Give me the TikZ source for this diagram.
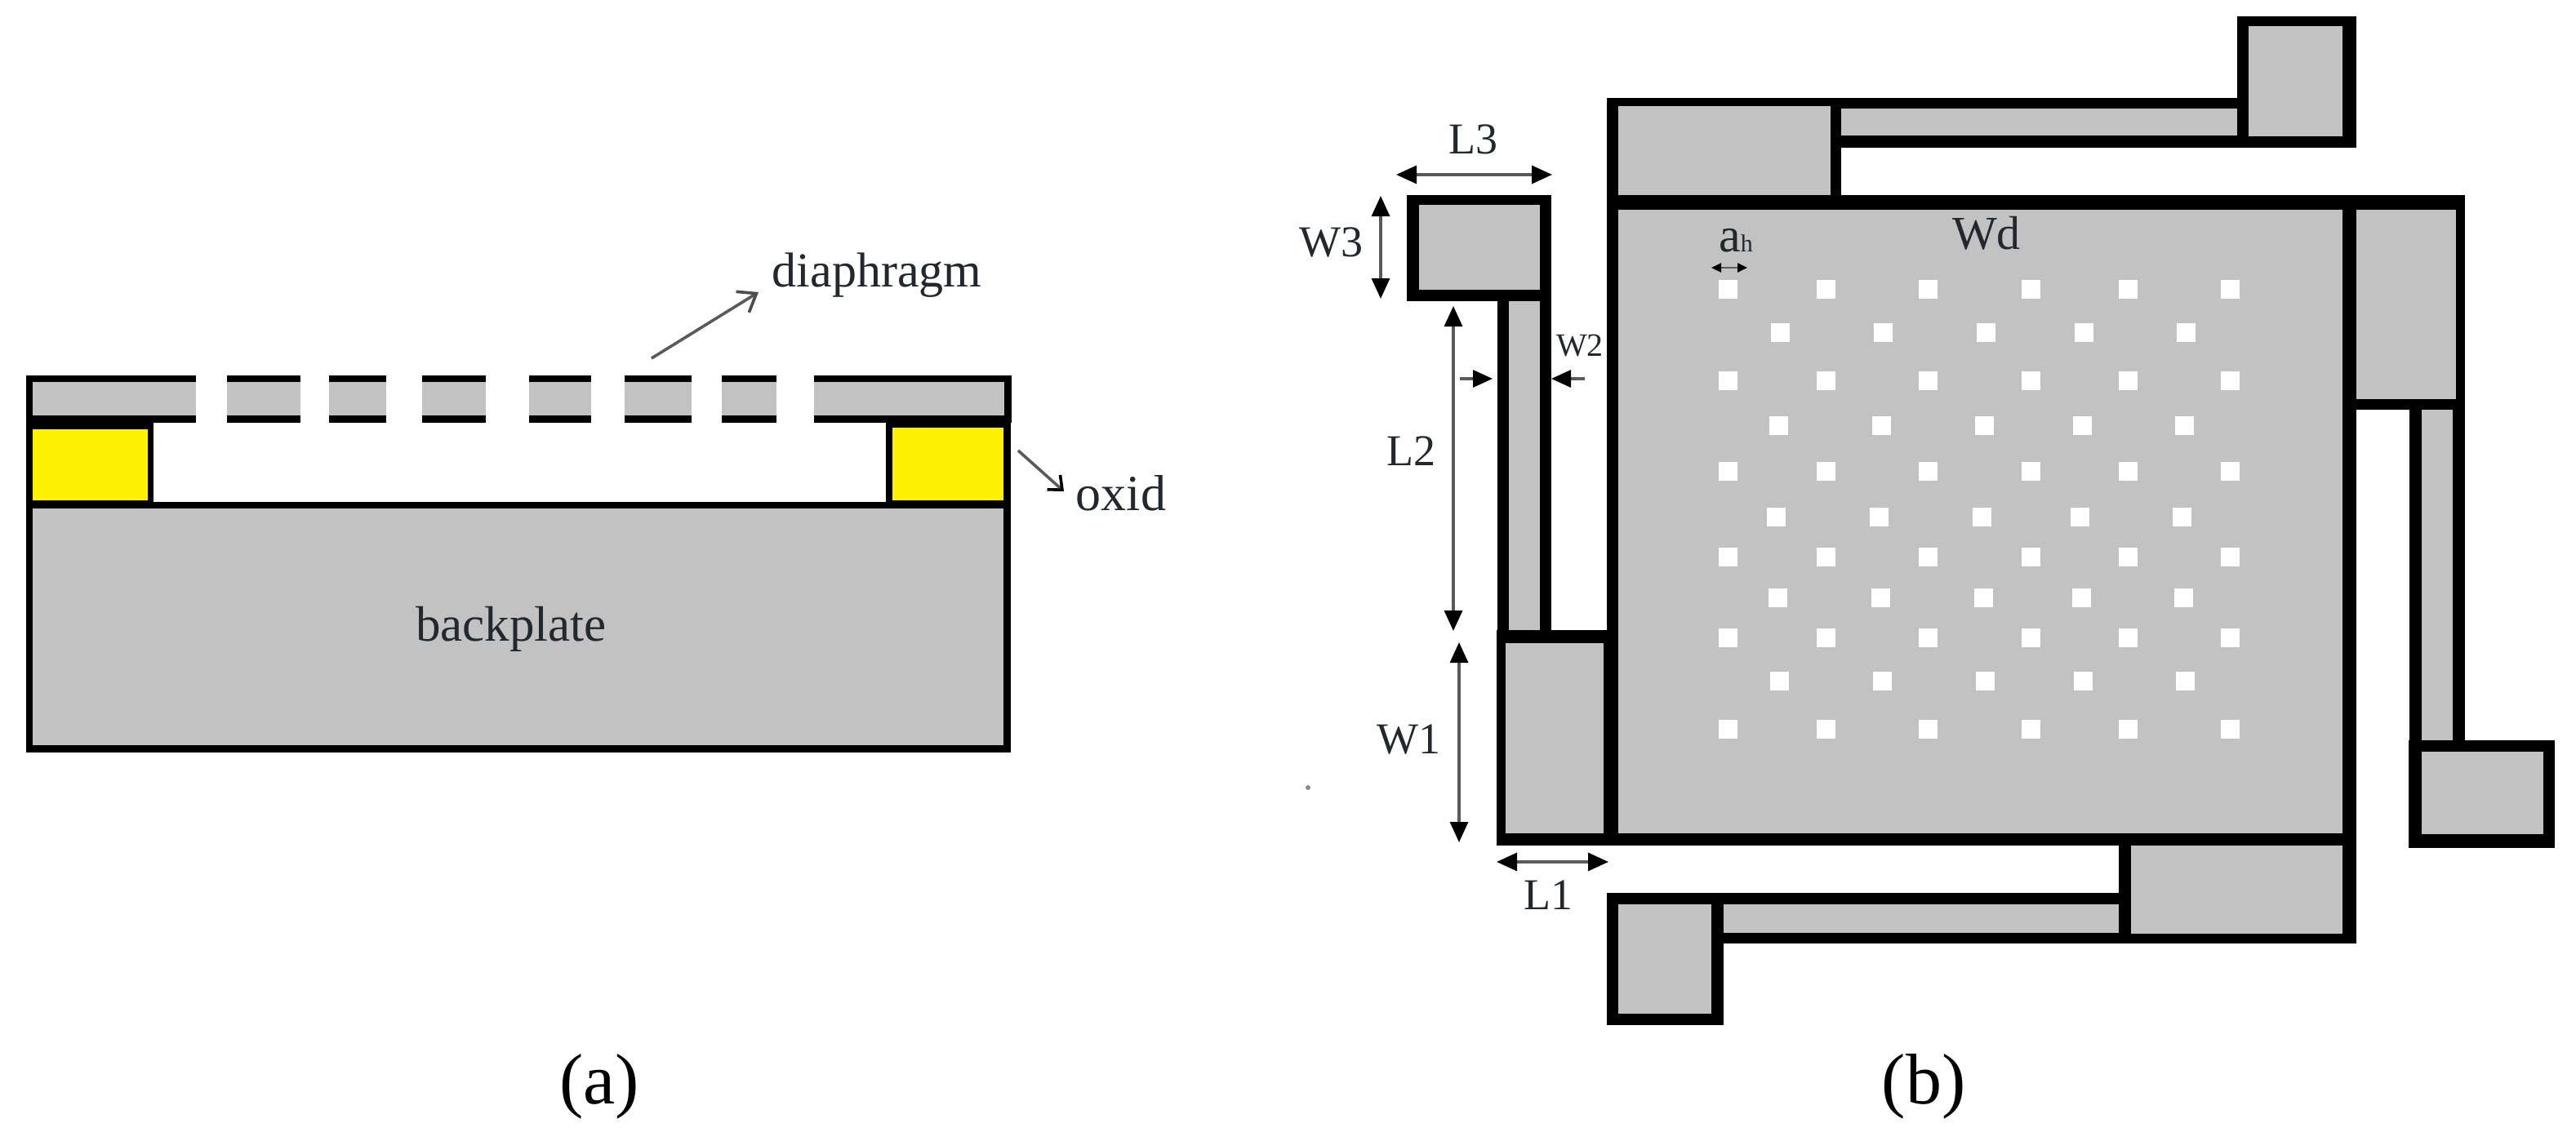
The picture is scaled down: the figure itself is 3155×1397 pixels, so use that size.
\documentclass[tikz,border=0pt]{standalone}
\usepackage{fontspec}
\usetikzlibrary{arrows.meta}
\newfontfamily\tnr{Liberation Serif}
\definecolor{plate}{HTML}{C2C2C2}
\definecolor{oxide}{HTML}{FFF200}
\definecolor{leader}{HTML}{5A5A5A}
\definecolor{labelink}{HTML}{22282E}
\newcommand{\bx}[5]{\fill[#1] (#2,#3) rectangle (#4,#5);}
\newcommand{\fsz}[1]{\fontsize{#1}{#1}\selectfont}
\tikzset{
  x=1pt,y=-1pt,
  dimline/.style={draw=leader,line width=3.2pt,{Triangle[length=25pt,width=22pt,black]}-{Triangle[length=25pt,width=22pt,black]}},
  dimone/.style={draw=leader,line width=3.2pt,-{Triangle[length=24pt,width=21pt,black]}},
  dimsmall/.style={draw=leader,line width=2.4pt,{Triangle[length=12pt,width=11pt,black]}-{Triangle[length=12pt,width=11pt,black]}},
  callout/.style={draw=leader,line width=3.6pt,-{Straight Barb[length=20pt,width=30pt,black!70]}},
  calloutsmall/.style={draw=leader,line width=3.6pt,-{Straight Barb[length=14pt,width=24pt,black]}},
  lab/.style={inner sep=0pt,text=labelink,font=\tnr\fsz{#1}},
  subcap/.style={inner sep=0pt,text=black,anchor=base,font=\tnr\fsz{88}},
}
\begin{document}
\begin{tikzpicture}
\useasboundingbox (0,0) rectangle (3155,1397);
\fill[white] (0,0) rectangle (3155,1397);
% ---------- panel (a) ----------
\foreach \l/\r in {32/240,278/368,403/473,517/595,648/724,765/847,884/951,997/1239}{
  \bx{black}{\l}{460}{\r}{518}
}
\foreach \l/\r in {40/240,278/368,403/473,517/595,648/724,765/847,884/951,997/1230}{
  \bx{plate}{\l}{468}{\r}{509}
}
\bx{black}{32}{509}{188}{623}
\bx{black}{1085}{509}{1238}{623}
\bx{black}{32}{615}{1238}{922}
\bx{white}{188}{518}{1085}{615}
\bx{oxide}{40}{526}{181}{613}
\bx{oxide}{1093}{524}{1229}{613}
\bx{plate}{40}{623}{1229}{913}
\foreach \l/\r in {240/278,368/403,473/517,595/648,724/765,847/884,951/997}{
  \bx{white}{\l}{455}{\r}{521}
}
\node[lab=61] (backplate) at (626,771) {backplate};
\node[lab=60] (diaphragm) at (1074,337) {diaphragm};
\node[lab=62,anchor=base] (oxid) at (1373,625) {oxid};
\coordinate (dstart) at (798,439);
\coordinate (dend) at (929,358);
\coordinate (ostart) at (1247,552);
\coordinate (oend) at (1303,602);
\draw[callout] (dstart) -- (dend);
\draw[calloutsmall] (ostart) -- (oend);
\node[subcap] (capa) at (734,1352) {(a)};
% ---------- panel (b) ----------
% black outlines
\bx{black}{2740}{20}{2886}{181}
\bx{black}{2242}{120}{2740}{181}
\bx{black}{1968}{120}{2255}{257}
\bx{black}{1968}{239}{2886}{1036}
\bx{black}{2869}{239}{3019}{502}
\bx{black}{2951}{502}{3019}{921}
\bx{black}{2950}{907}{3129}{1039}
\bx{black}{2595}{1036}{2886}{1156}
\bx{black}{2111}{1094}{2610}{1156}
\bx{black}{1968}{1094}{2111}{1256}
\bx{black}{1833}{772}{1982}{1036}
\bx{black}{1834}{369}{1900}{788}
\bx{black}{1723}{239}{1900}{369}
% grey interiors
\bx{plate}{2754}{32}{2869}{167}
\bx{plate}{2255}{133}{2740}{166}
\bx{plate}{1982}{130}{2242}{239}
\bx{plate}{1982}{257}{2869}{1021}
\bx{plate}{2886}{257}{3008}{489}
\bx{plate}{2966}{502}{3004}{907}
\bx{plate}{2966}{921}{3115}{1022}
\bx{plate}{2610}{1036}{2869}{1144}
\bx{plate}{2111}{1108}{2595}{1143}
\bx{plate}{1982}{1108}{2096}{1242}
\bx{plate}{1844}{788}{1964}{1021}
\bx{plate}{1848}{369}{1886}{772}
\bx{plate}{1738}{251}{1886}{355}
% etch holes
\foreach \y in {354,466,577,682,781,893}{
  \foreach \x in {2116,2236,2361,2487,2606,2731}{
    \fill[white] (\x-11.5,\y-11.5) rectangle (\x+11.5,\y+11.5);
  }
}
\foreach \y/\o in {407/0,521/-2,633/-5,732/-3,834/-1}{
  \foreach \x in {2180,2306,2432,2552,2677}{
    \fill[white] (\x+\o-11.5,\y-11.5) rectangle (\x+\o+11.5,\y+11.5);
  }
}
% dimension arrows
\coordinate (l3a) at (1710,214);  \coordinate (l3b) at (1901,214);
\coordinate (w3a) at (1691,240);  \coordinate (w3b) at (1691,366);
\coordinate (l2a) at (1780,375);  \coordinate (l2b) at (1780,773);
\coordinate (w1a) at (1787,787);  \coordinate (w1b) at (1787,1032);
\coordinate (l1a) at (1833,1056); \coordinate (l1b) at (1970,1056);
\coordinate (w2a) at (1788,464);  \coordinate (w2b) at (1828,464);
\coordinate (w2c) at (1941,464);  \coordinate (w2d) at (1900,464);
\coordinate (aha) at (2096,328);  \coordinate (ahb) at (2140,328);
\draw[dimline] (l3a) -- (l3b);
\draw[dimline] (w3a) -- (w3b);
\draw[dimline] (l2a) -- (l2b);
\draw[dimline] (w1a) -- (w1b);
\draw[dimline] (l1a) -- (l1b);
\draw[dimone] (w2a) -- (w2b);
\draw[dimone] (w2c) -- (w2d);
\draw[dimsmall] (aha) -- (ahb);
% labels
\node[lab=54] (L3) at (1804,171) {L3};
\node[lab=54] (W3) at (1630,297) {W3};
\node[lab=54] (L2) at (1728,553) {L2};
\node[lab=40] (W2) at (1935,424) {W2};
\node[lab=54] (W1) at (1725,906) {W1};
\node[lab=54] (L1) at (1896,1097) {L1};
\node[lab=58] (Wd) at (2433,286) {Wd};
\node[lab=60,anchor=base west] (ah) at (2105,308) {a\fsz{30}h};
\fill[leader!70] (1602,965) circle (3);
\node[subcap] (capb) at (2356,1352) {(b)};
\end{tikzpicture}
\end{document}
